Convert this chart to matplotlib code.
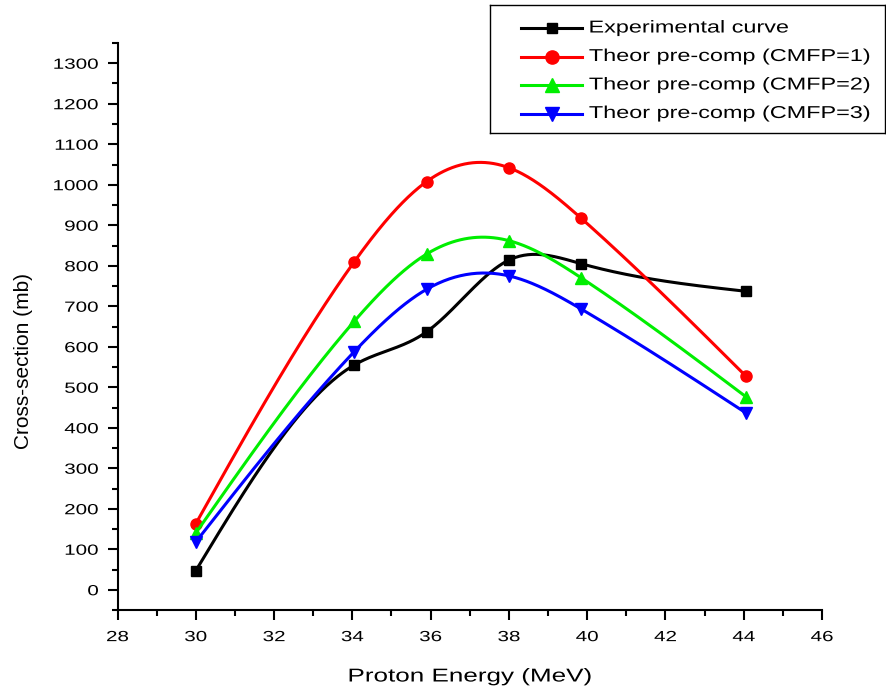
import numpy as np
import matplotlib
matplotlib.use("Agg")
import matplotlib.pyplot as plt
from matplotlib.ticker import MultipleLocator
from matplotlib.patheffects import AbstractPathEffect
from matplotlib.transforms import Affine2D

plt.rcParams["font.family"] = ["Liberation Sans", "DejaVu Sans"]

# Proton energies (MeV)
energy = [30.0, 34.05, 35.9, 38.0, 39.85, 44.05]

# Cross-sections (mb)
experimental = [47, 555, 637, 814, 805, 737]
cmfp1 = [163, 810, 1008, 1042, 917, 528]
cmfp2 = [140, 663, 829, 862, 770, 477]
cmfp3 = [118, 588, 742, 775, 693, 437]

series_labels = [
    "Experimental curve",
    "Theor pre-comp (CMFP=1)",
    "Theor pre-comp (CMFP=2)",
    "Theor pre-comp (CMFP=3)",
]


class Stretch(AbstractPathEffect):
    """Widen glyphs along the text direction around an anchor."""

    def __init__(self, sx, anchor="center"):
        super().__init__()
        self.sx = sx
        self.anchor = anchor

    def draw_path(self, renderer, gc, tpath, affine, rgbFace=None):
        ext = tpath.get_extents()
        cx = {"left": ext.x0, "right": ext.x1,
              "center": 0.5 * (ext.x0 + ext.x1)}[self.anchor]
        pre = Affine2D().translate(-cx, 0).scale(self.sx, 1).translate(cx, 0)
        renderer.draw_path(gc, tpath, pre + affine, rgbFace)


def natural_spline(x, y, xs):
    """Natural cubic spline through (x, y) evaluated at xs."""
    x = np.asarray(x, float)
    y = np.asarray(y, float)
    n = len(x)
    h = np.diff(x)
    A = np.zeros((n, n))
    b = np.zeros(n)
    A[0, 0] = A[-1, -1] = 1.0
    for i in range(1, n - 1):
        A[i, i - 1] = h[i - 1]
        A[i, i] = 2 * (h[i - 1] + h[i])
        A[i, i + 1] = h[i]
        b[i] = 3 * ((y[i + 1] - y[i]) / h[i] - (y[i] - y[i - 1]) / h[i - 1])
    c = np.linalg.solve(A, b)
    out = np.empty_like(xs)
    for k, xv in enumerate(xs):
        i = min(max(np.searchsorted(x, xv) - 1, 0), n - 2)
        dx = xv - x[i]
        bi = (y[i + 1] - y[i]) / h[i] - h[i] * (2 * c[i] + c[i + 1]) / 3
        di = (c[i + 1] - c[i]) / (3 * h[i])
        out[k] = y[i] + bi * dx + c[i] * dx ** 2 + di * dx ** 3
    return out


W, H = 887, 693
fig = plt.figure(figsize=(W / 100, H / 100), dpi=100)
ax = fig.add_axes([117.5 / W, 1 - 610 / H, 704.5 / W, 567 / H])

styles = [
    ("black", "s", 7.5),
    ("red", "o", 8),
    ("#00ee00", "^", 9),
    ("blue", "v", 9),
]
LW = 2.2
xs = np.linspace(energy[0], energy[-1], 400)
for values, (color, marker, ms) in zip(
        [experimental, cmfp1, cmfp2, cmfp3], styles):
    ax.plot(xs, natural_spline(energy, values, xs), color=color, lw=LW)
    ax.plot(energy, values, linestyle="none", marker=marker, ms=ms,
            color=color)

ax.set_xlim(28, 46)
ax.set_ylim(-50, 1350)
ax.xaxis.set_major_locator(MultipleLocator(2))
ax.xaxis.set_minor_locator(MultipleLocator(1))
ax.set_yticks(np.arange(0, 1301, 100))
ax.yaxis.set_minor_locator(MultipleLocator(50))

for side in ("top", "right"):
    ax.spines[side].set_visible(False)
for side in ("left", "bottom"):
    ax.spines[side].set_linewidth(1.5)

ax.tick_params(which="major", direction="out", length=7.5, width=1.5,
               labelsize=10.6)
ax.tick_params(which="minor", direction="out", length=4, width=1.5)
ax.tick_params(axis="x", pad=7)
ax.tick_params(axis="y", pad=6)

for t in ax.xaxis.get_major_ticks():
    t.label1.set_path_effects([Stretch(1.4, "center")])
for t in ax.yaxis.get_major_ticks():
    t.label1.set_path_effects([Stretch(1.4, "right")])

ax.set_xlabel("Proton Energy (MeV)", fontsize=13.4,
              path_effects=[Stretch(1.4, "center")])
ax.xaxis.set_label_coords(0.5, (1 - 677 / H - (1 - 610 / H)) / (567 / H))
ax.xaxis.label.set_va("center")

ax.set_ylabel("Cross-section (mb)", fontsize=15)
ax.yaxis.set_label_coords((23 - 117.5) / 704.5, (610 - 361) / 567)
ax.yaxis.label.set_va("center")

# Legend panel laid out in pixel units
lax = fig.add_axes([490 / W, 1 - 133 / H, 395 / W, 128 / H])
lax.set_xlim(490, 885)
lax.set_ylim(133, 5)
lax.set_xticks([])
lax.set_yticks([])
for sp in lax.spines.values():
    sp.set_linewidth(1.0)
leg_ms = [7.5, 9.5, 9.5, 9.5]
row_y = [28, 56.5, 85, 113.5]
for (color, marker, _), ms, label, yy in zip(styles, leg_ms,
                                             series_labels, row_y):
    lax.plot([521, 582], [yy, yy], color=color, lw=LW)
    lax.plot([551.5], [yy], marker=marker, ms=ms, color=color)
    lax.text(589, yy, label, fontsize=12.4, va="center", ha="left",
             path_effects=[Stretch(1.36, "left")])

fig.savefig("out.png", dpi=100)
